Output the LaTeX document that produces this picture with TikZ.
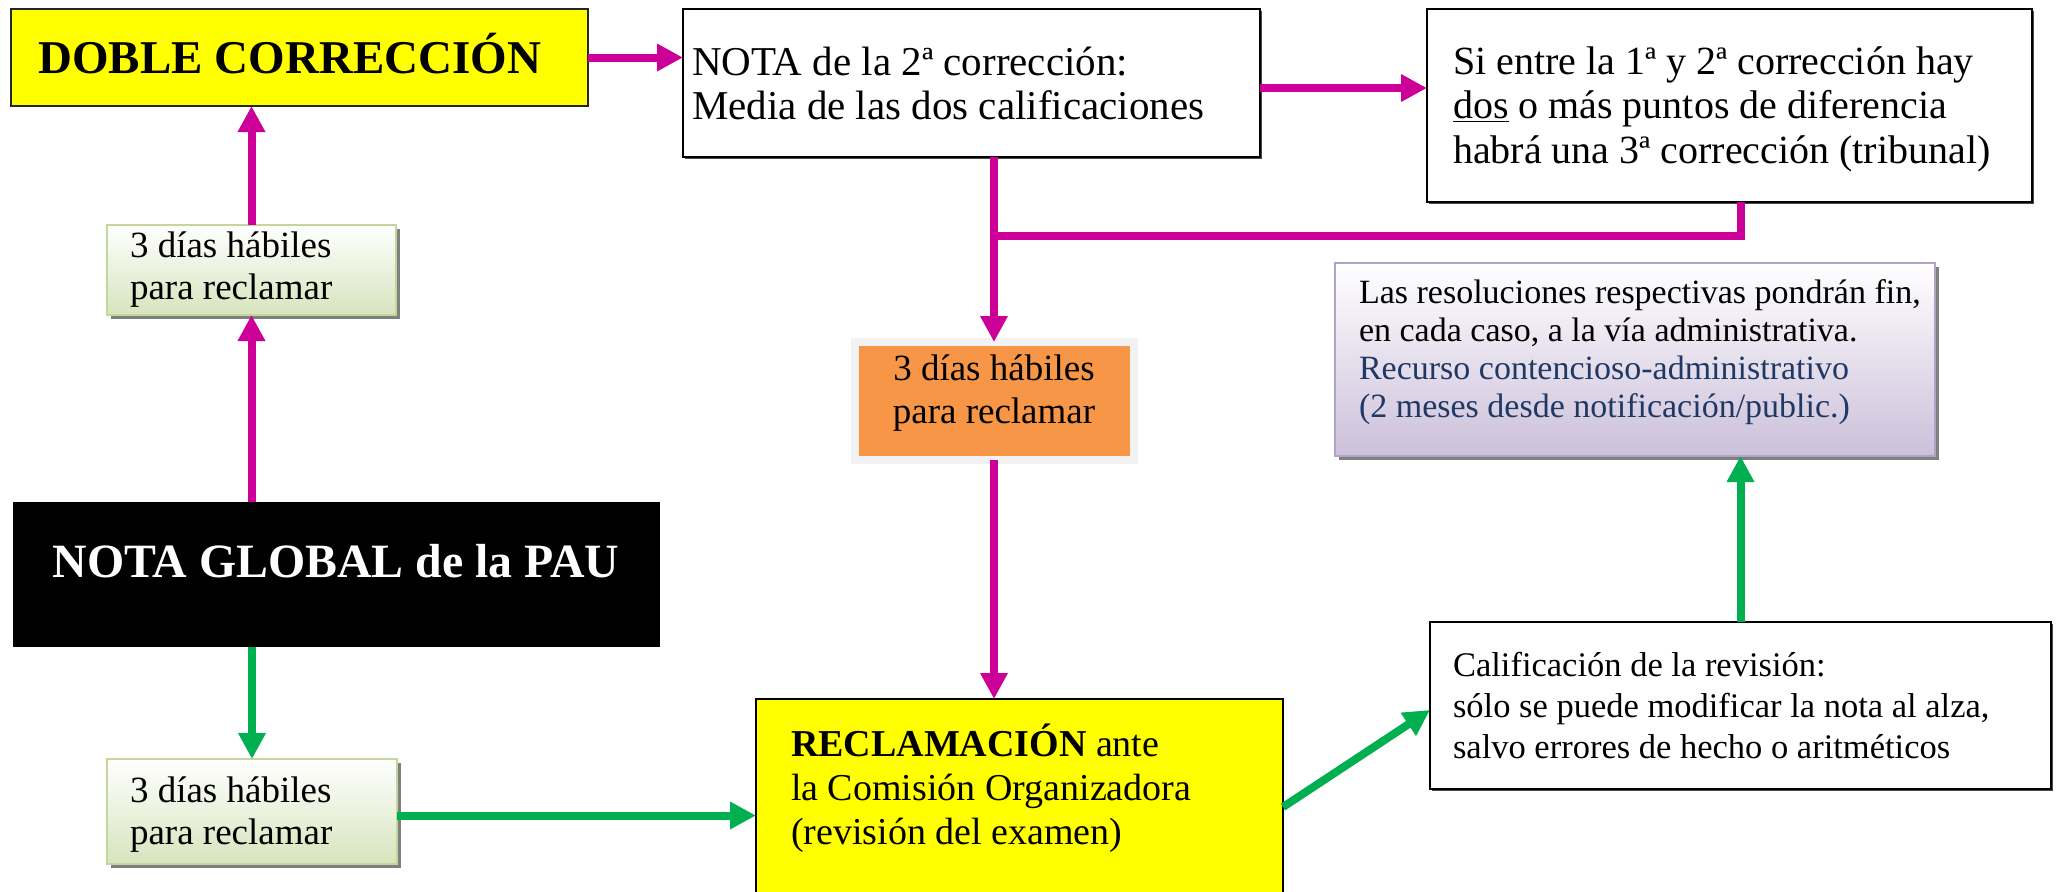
\documentclass[tikz,border=0pt]{standalone}
\usepackage{fontspec}
\setmainfont{Liberation Serif}
\usetikzlibrary{arrows.meta,shadows}
\definecolor{pinkc}{HTML}{CC0099}
\definecolor{greenc}{HTML}{00B050}
\definecolor{gbord}{HTML}{C3D69B}
\definecolor{gbot}{HTML}{D7E4BD}
\definecolor{pbord}{HTML}{B3A2C7}
\definecolor{pbot}{HTML}{CCC0DA}
\definecolor{orangec}{HTML}{F79646}
\definecolor{frameg}{HTML}{F2F2F2}
\definecolor{bluec}{HTML}{1F3864}
\definecolor{yel}{HTML}{FFFF00}
\definecolor{shbrown}{HTML}{C8A27C}
\begin{document}
\begin{tikzpicture}[x=0.5pt,y=-0.5pt,
  box/.style={rectangle, inner sep=0pt, outer sep=0pt},
  txt/.style={inner sep=0pt, outer sep=0pt, align=left},
  pline/.style={draw=pinkc, line width=4pt},
  parrow/.style={pline, -{Triangle[length=13pt,width=13pt]}},
  garrow/.style={draw=greenc, line width=4pt, -{Triangle[length=13pt,width=13pt]}},
  blackbox/.style={box, draw=black, line width=1pt, fill=white,
    drop shadow={shadow xshift=1pt, shadow yshift=-1pt, fill=black!70, opacity=1}},
  greenbox/.style={box, draw=gbord, line width=1.2pt, top color=white, bottom color=gbot,
    drop shadow={shadow xshift=2pt, shadow yshift=-2pt, fill=black!50, opacity=1}},
  purplebox/.style={box, draw=pbord, line width=1.2pt, top color=white, bottom color=pbot,
    drop shadow={shadow xshift=2pt, shadow yshift=-2pt, fill=black!50, opacity=1}},
  orangebox/.style={box, draw=frameg, line width=4pt, fill=orangec,
    drop shadow={shadow xshift=2pt, shadow yshift=-2pt, fill=shbrown, opacity=1}},
  yellowbox/.style={box, fill=yel, draw=black!85}
]
\useasboundingbox (0,0) rectangle (2060,891);
\fill[white] (0,0) rectangle (2060,891);
\clip (0,0) rectangle (2060,891);

% boxes
\node[yellowbox, line width=1pt, minimum width=288.5pt, minimum height=48.5pt] (doble) at (299.5,57.5) {};
\node[inner sep=0pt, anchor=base west, font=\fontsize{23.5}{28}\selectfont\bfseries] (doblet) at (38,73) {DOBLE CORRECCIÓN};

\node[blackbox, minimum width=288.5pt, minimum height=74pt] (nota2) at (971.5,83) {};
\node[txt, anchor=west, font=\fontsize{20.5}{22}\selectfont] (nota2t) at ([xshift=4.5pt]nota2.west)
  {NOTA de la 2ª corrección:\\Media de las dos calificaciones};

\node[blackbox, minimum width=302.5pt, minimum height=96.5pt] (si) at (1729.5,105.5) {};
\node[txt, anchor=west, font=\fontsize{20}{22.25}\selectfont] (sit) at ([xshift=13pt,yshift=-1.75pt]si.west)
  {Si entre la 1ª y 2ª corrección hay\\\underline{dos} o más puntos de diferencia\\habrá una 3ª corrección (tribunal)};

\node[purplebox, minimum width=300pt, minimum height=96.5pt] (purple) at (1635,359.5) {};
\node[txt, anchor=west, font=\fontsize{17}{19}\selectfont] (purplet) at ([xshift=12pt,yshift=3.5pt]purple.west)
  {Las resoluciones respectivas pondrán fin,\\en cada caso, a la vía administrativa.\\
   \textcolor{bluec}{Recurso contencioso-administrativo}\\\textcolor{bluec}{(2 meses desde notificación/public.)}};

\node[orangebox, minimum width=139.5pt, minimum height=59pt] (orange) at (994,401) {};
\node[inner sep=0pt, align=center, font=\fontsize{18.5}{21.5}\selectfont] (oranget) at ([yshift=4pt]orange.center)
  {3 días hábiles\\para reclamar};

\node[greenbox, minimum width=144.5pt, minimum height=45pt] (green1) at (251.5,270) {};
\node[txt, anchor=west, font=\fontsize{18.5}{21}\selectfont] (green1t) at ([xshift=11.5pt]green1.west)
  {3 días hábiles\\para reclamar};

\node[box, fill=black, minimum width=323.5pt, minimum height=72.5pt] (global) at (336.5,574.5) {};
\node[inner sep=0pt, text=white, font=\fontsize{23.9}{28}\selectfont\bfseries] (globalt) at (336,561) {NOTA GLOBAL de la PAU};

\node[greenbox, minimum width=145pt, minimum height=52.5pt] (green2) at (252,811.5) {};
\node[txt, anchor=west, font=\fontsize{18.5}{21}\selectfont] (green2t) at ([xshift=11.5pt,yshift=-1.75pt]green2.west)
  {3 días hábiles\\para reclamar};

\node[yellowbox, draw=black, line width=1.2pt, minimum width=263.5pt, minimum height=98pt] (recl) at (1019.5,797) {};
\node[txt, anchor=west, font=\fontsize{19}{22}\selectfont] (reclt) at ([xshift=17.5pt,yshift=4.5pt]recl.west)
  {\textbf{RECLAMACIÓN} ante\\la Comisión Organizadora\\(revisión del examen)};

\node[blackbox, minimum width=310.5pt, minimum height=83.5pt] (calif) at (1740.5,705.5) {};
\node[txt, anchor=west, font=\fontsize{17.25}{20.5}\selectfont] (calift) at ([xshift=11.5pt]calif.west)
  {Calificación de la revisión:\\sólo se puede modificar la nota al alza,\\salvo errores de hecho o aritméticos};

% connectors
\coordinate (j) at (994,236);
\draw[parrow] (doble.east) -- (doble.east -| nota2.west);
\draw[parrow] ([yshift=-2.5pt]nota2.east) -- ([yshift=-2.5pt]nota2.east -| si.west);
\draw[pline] ([xshift=5.75pt]si.south) |- (j);
\draw[parrow] (orange.north |- nota2.south) -- (orange.north);
\draw[parrow] (orange.south) -- (orange.south |- recl.north);
\draw[parrow] (global.north -| green1.south) -- (green1.south);
\draw[parrow] (green1.north) -- (green1.north |- doble.south);
\draw[garrow] (green2.north |- global.south) -- (green2.north);
\draw[garrow] ([yshift=-2pt]green2.east) -- ([yshift=-2pt]green2.east -| recl.west);
\draw[garrow] ([yshift=-5pt]recl.east) -- ([yshift=-2.25pt]calif.west);
\draw[garrow] (calif.north) -- (calif.north |- purple.south);
\end{tikzpicture}
\end{document}
